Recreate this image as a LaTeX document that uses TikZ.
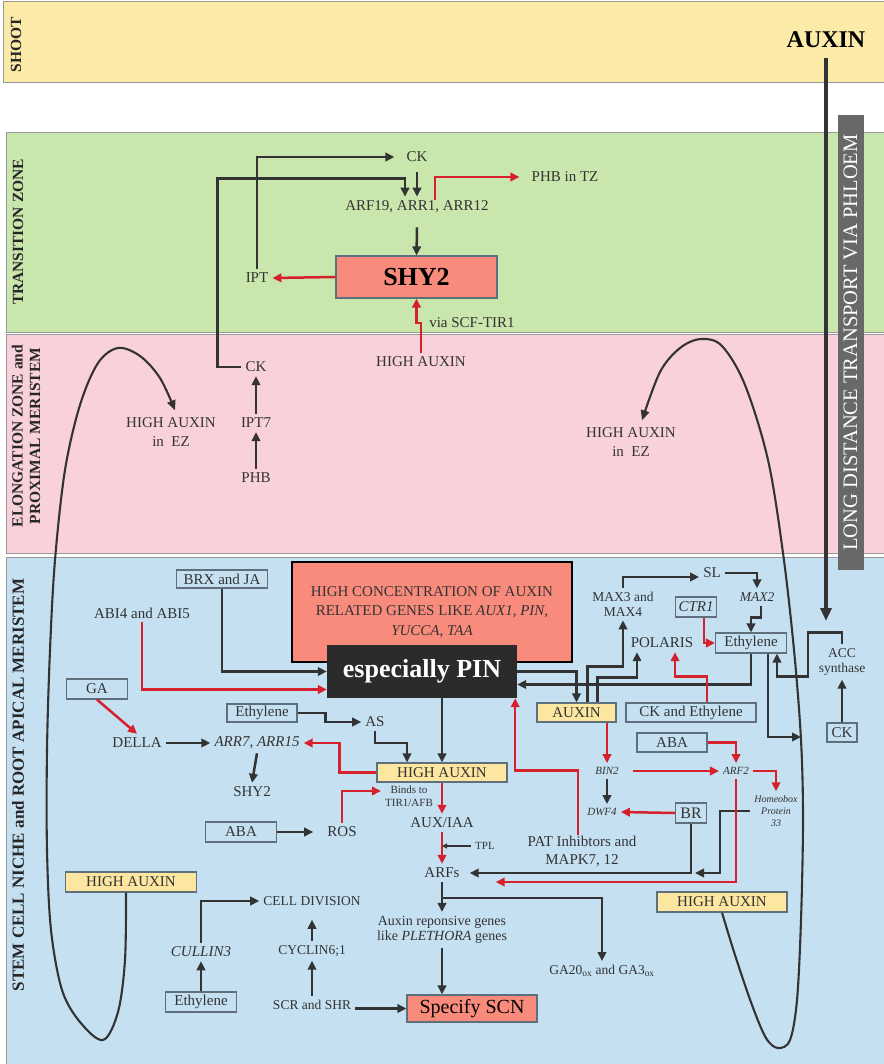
\documentclass[tikz,border=0pt]{standalone}
\usepackage{fontspec}
\setmainfont{Liberation Serif}
\usetikzlibrary{arrows.meta,calc}
\definecolor{shootc}{HTML}{FCEBA8}
\definecolor{tzc}{HTML}{C9E7AC}
\definecolor{ezc}{HTML}{F8D1DB}
\definecolor{scc}{HTML}{C5E1F1}
\definecolor{salm}{HTML}{F98B7C}
\definecolor{yboxc}{HTML}{FCE6A0}
\definecolor{dk}{HTML}{333333}
\definecolor{rd}{HTML}{D6212D}
\definecolor{bgr}{HTML}{5F707C}
\definecolor{bandln}{HTML}{999999}
\definecolor{pinc}{HTML}{2B2B2B}
\definecolor{barc}{HTML}{686868}
\begin{document}
\begin{tikzpicture}[x=1pt,y=-1pt,
  every node/.style={inner sep=4pt, text=dk},
  lbl/.style={font=\fontsize{15}{19}\selectfont, align=center},
  sm/.style={font=\fontsize{13.5}{15}\selectfont, align=center},
  xs/.style={font=\fontsize{11}{12.5}\selectfont, align=center},
  bx/.style={font=\fontsize{15}{17}\selectfont, draw=bgr, line width=1.2pt, fill=scc, inner sep=0pt},
  yb/.style={bx, fill=yboxc},
  arr/.style={draw=dk, line width=2.5pt, -{Triangle[length=9pt,width=8.5pt]}},
  rarr/.style={arr, draw=rd},
  band/.style={draw=bandln, line width=1pt},
  zlab/.style={rotate=90, font=\bfseries\fontsize{15.5}{17.5}\selectfont, align=center, text=black!85, inner sep=0pt},
  curve/.style={draw=dk, line width=2.1pt, -{Triangle[length=10pt,width=8.5pt]}}
]
\useasboundingbox (0,0) rectangle (883,1064);
\fill[white] (0,0) rectangle (883,1064);
% bands
\draw[band, fill=shootc] (3,2) rectangle (890,83);
\draw[band, fill=tzc] (6,133) rectangle (890,332);
\draw[band, fill=ezc] (6,334) rectangle (890,553);
\draw[band, fill=scc] (6,557) rectangle (890,1070);
\node[zlab] (lshoot) at (16,45) {SHOOT};
\node[zlab] (ltz) at (18,232) {TRANSITION ZONE};
\node[zlab] (lez) at (26,436) {ELONGATION ZONE and\\PROXIMAL MERISTEM};
\node[zlab, font=\bfseries\fontsize{17}{19}\selectfont] (lsc) at (18,785) {STEM CELL NICHE and ROOT APICAL MERISTEM};

% long distance transport
\node[font=\bfseries\fontsize{24}{26}\selectfont, text=black, inner sep=0pt] (auxtop) at (826,40) {AUXIN};
\node[fill=barc, rotate=90, minimum width=455, minimum height=26, inner sep=0pt, text=white, font=\fontsize{20.5}{22}\selectfont] (ldt) at (850.5,342.5) {LONG DISTANCE TRANSPORT VIA PHLOEM};
\coordinate (ldtend) at (826,621);
\draw[draw=dk, line width=3.4pt, -{Triangle[length=13pt,width=11pt]}] ([yshift=-10]auxtop.south) -- (ldtend);

% transition zone
\node[lbl] (ck1) at (417,157) {CK};
\node[lbl] (arrn) at (417,207) {ARF19, ARR1, ARR12};
\node[lbl] (phb) at (565,177) {PHB in TZ};
\node[draw=bgr, fill=salm, line width=1.2pt, minimum width=161, minimum height=42, inner sep=0pt, font=\bfseries\fontsize{26}{28}\selectfont, text=black] (shy2) at (416.5,277) {SHY2};
\node[lbl] (ipt) at (257,278) {IPT};
\node[lbl] (via) at (472,323) {via SCF-TIR1};

% elongation zone
\node[lbl] (hia1) at (421,362) {HIGH AUXIN};
\node[lbl] (ck2) at (256,367) {CK};
\node[lbl] (ipt7) at (256,423) {IPT7};
\node[lbl] (phb2) at (256,478) {PHB};
\node[lbl] (hez1) at (171,432) {HIGH AUXIN\\in\ \ EZ};
\node[lbl] (hez2) at (631,442) {HIGH AUXIN\\in\ \ EZ};

\draw[arr] (ipt.north) |- ([xshift=-8]ck1.west);
\draw[arr] (ck2.west) -- ++(-24,0) |- ($(arrn.north)+(-12,-18)$) -- ($(arrn.north)+(-12,0)$);
\draw[arr] ([yshift=-6]ck1.south) -- (ck1.south |- arrn.north);
\draw[rarr] ($(arrn.north)+(18,3)$) |- ([xshift=-8]phb.west);
\draw[arr] ([yshift=-10]arrn.south) -- (shy2.north);
\draw[rarr] (shy2.west) -- (ipt.east);
\draw[rarr] (hia1.north) -- ++(0,-30) -| (shy2.south);
\draw[arr] (ipt7) -- (ck2);
\draw[arr] (phb2) -- (ipt7);

% stem cell niche: central
\node[draw=black, line width=2.5pt, fill=salm, minimum width=280, minimum height=100, inner sep=0pt, font=\fontsize{15}{19.5}\selectfont, align=center] (hcon) at (432,612) {HIGH CONCENTRATION OF AUXIN\\RELATED GENES LIKE \textit{AUX1}, \textit{PIN},\\\textit{YUCCA}, \textit{TAA}};
\node[fill=pinc, minimum width=190, minimum height=53, inner sep=0pt, text=white, font=\bfseries\fontsize{26}{28}\selectfont] (pin) at (422,671.5) {especially PIN};

\node[bx, minimum width=91, minimum height=18] (brx) at (222,579) {BRX and JA};
\node[lbl] (abi) at (142,613) {ABI4 and ABI5};
\node[bx, minimum width=61, minimum height=20] (ga) at (97,689) {GA};
\node[lbl] (della) at (137,743) {DELLA};
\node[lbl, font=\itshape\fontsize{15}{19}\selectfont] (arr7) at (257,743) {ARR7, ARR15};
\node[bx, minimum width=70, minimum height=18] (eth1) at (262,713) {Ethylene};
\node[lbl] (asn) at (375,722) {AS};
\node[yb, minimum width=130, minimum height=19] (hia2) at (442,772.5) {HIGH AUXIN};
\node[lbl] (shy2b) at (252,792) {SHY2};
\node[xs] (binds) at (409,796) {Binds to\\TIR1/AFB};
\node[bx, minimum width=71, minimum height=20] (aba1) at (241,832) {ABA};
\node[lbl] (ros) at (342,832) {ROS};
\node[lbl] (auxiaa) at (442,823) {AUX/IAA};
\node[xs] (tpl) at (485,846) {TPL};
\node[lbl] (arfs) at (442,873) {ARFs};
\node[font=\fontsize{14}{15.5}\selectfont, align=center] (resp) at (442,930) {Auxin reponsive genes\\like \textit{PLETHORA} genes};
\node[draw=bgr, line width=1.2pt, fill=salm, minimum width=130, minimum height=27, inner sep=0pt, font=\fontsize{20}{22}\selectfont, text=black] (scn) at (472,1008.5) {Specify SCN};
\node[yb, minimum width=131, minimum height=20] (hia3) at (131,882) {HIGH AUXIN};
\node[sm] (celldiv) at (312,901) {CELL DIVISION};
\node[lbl, font=\itshape\fontsize{15}{19}\selectfont] (cullin) at (201,952) {CULLIN3};
\node[bx, minimum width=71, minimum height=20] (eth3) at (201,1002) {Ethylene};
\node[sm] (cyclin) at (312,951) {CYCLIN6;1};
\node[sm] (scr) at (312,1005) {SCR and SHR};
\node[sm] (ga20) at (602,971) {GA20\textsubscript{ox} and GA3\textsubscript{ox}};

% right part
\node[sm] (max34) at (623,604) {MAX3 and\\MAX4};
\node[lbl] (sl) at (712,573) {SL};
\node[sm, font=\itshape\fontsize{13.5}{15}\selectfont] (max2) at (757,597) {MAX2};
\node[bx, minimum width=41, minimum height=20, font=\itshape\fontsize{15}{17}\selectfont] (ctr1) at (696,607) {CTR1};
\node[lbl] (polaris) at (662,643) {POLARIS};
\node[bx, minimum width=71, minimum height=20] (eth2) at (751,643) {Ethylene};
\node[sm] (acc) at (842,662) {ACC\\synthase};
\node[yb, minimum width=79, minimum height=19] (auxb) at (576.5,712.5) {AUXIN};
\node[bx, minimum width=130, minimum height=19] (cketh) at (691,712.5) {CK and Ethylene};
\node[bx, minimum width=30, minimum height=19] (ck3) at (842,732.5) {CK};
\node[bx, minimum width=70, minimum height=19] (aba2) at (672,742.5) {ABA};
\node[xs, font=\itshape\fontsize{11}{12.5}\selectfont] (bin2) at (607,771) {BIN2};
\node[xs, font=\itshape\fontsize{11}{12.5}\selectfont] (arf2) at (736,771) {ARF2};
\node[xs, font=\itshape\fontsize{11}{12.5}\selectfont] (dwf4) at (602,812) {DWF4};
\node[bx, minimum width=31, minimum height=20, font=\fontsize{16}{17}\selectfont] (br) at (691,813) {BR};
\node[font=\itshape\fontsize{10}{12}\selectfont, align=center] (hbox) at (776,811) {Homeobox\\Protein\\33};
\node[lbl, font=\fontsize{15}{18}\selectfont] (pat) at (582,851) {PAT Inhibtors and\\MAPK7, 12};
\node[yb, minimum width=130, minimum height=20] (hia4) at (722,902) {HIGH AUXIN};
\coordinate (rc) at (801,737);

% arrows: central/left
\draw[arr] (brx.south) |- (pin.west);
\draw[rarr] (abi.south) |- ($(pin.west)+(0,18)$);
\draw[rarr] (ga.south) -- (della.north);
\draw[arr] (della.east) -- (arr7.west);
\draw[arr] (eth1.east) -- ++(28,0) |- (asn.west);
\draw[arr] (asn.south) -- ++(0,12) -| ($(hia2.north)+(-35,0)$);
\draw[arr] (pin.south -| hia2.north) -- (hia2.north);
\draw[rarr] (hia2.west) -- ++(-37,0) |- (arr7.east);
\draw[arr] (arr7.south) -- (shy2b.north);
\draw[rarr] (hia2.south) -- (auxiaa.north);
\draw[rarr] (ros.north) |- ($(binds.west)+(0,-5)$);
\draw[arr] (aba1.east) -- ([xshift=-10]ros.west);
\draw[rarr] (auxiaa.south) -- (arfs.north);
\draw[draw=dk, line width=1.3pt, -{Triangle[length=5pt,width=5pt]}] (tpl.west) -- (tpl.west -| auxiaa.south);
\draw[arr] (arfs.south) -- (resp.north);
\draw[arr] ($(arfs.south)+(0,16)$) -| (ga20.north);
\draw[arr] (resp.south) -- (resp.south |- scn.north);
\draw[arr] (scr.east |- scn.west) -- (scn.west);
\draw[arr] (scr.north) -- (cyclin.south);
\draw[arr] (cyclin.north) -- ([yshift=-10]celldiv.south);
\draw[arr] (eth3.north) -- (cullin.south);
\draw[arr] (cullin.north) |- (celldiv.west);

% arrows: right
\draw[arr] (pin.east) -| (auxb.north);
\draw[arr] (eth2.south) |- ($(pin.east)+(0,13)$);
\draw[arr] ($(auxb.north)+(11,0)$) -- ++(0,-36) -| (max34.south);
\draw[arr] ($(auxb.north)+(21,0)$) -- ++(0,-25) -| ($(polaris.south)+(-25,0)$);
\draw[arr] (max34.north) |- ([yshift=-4]sl.west);
\draw[arr] (sl.east) -| (max2.north);
\draw[arr] ($(max2.south)+(4,0)$) -- ++(0,12) -| (eth2.north);
\draw[rarr] ($(ctr1.south)+(8,0)$) |- (eth2.west);
\draw[rarr] ($(cketh.north)+(16,0)$) -- ++(0,-26) -| ($(polaris.south)+(13,0)$);
\draw[arr] (acc.north) -- ++(0,-12) -- ++(-34,0) -- ++(0,44) -| ($(eth2.south)+(26,0)$);
\draw[arr] (ck3.north) -- (acc.south);
\draw[arr] ($(eth2.south)+(17,0)$) |- (rc);
\draw[rarr] (bin2.north |- auxb.south) -- (bin2.north);
\draw[rarr] (aba2.east) -| (arf2.north);
\draw[rarr] ([xshift=10]bin2.east) -- (arf2.west);
\draw[rarr] (arf2.east) -| (hbox.north);
\draw[arr] (bin2.south) -- (bin2.south |- dwf4.north);
\draw[rarr] (br.west) -- (dwf4.east);
\draw[arr] (br.south) |- ([xshift=6]arfs.east);
\draw[arr] (hbox.west) -- ++(-30,0) |- ($(br.south |- arfs.east)+(4,0)$);
\draw[rarr] (arf2.south) |- ($(arfs.east)+(32,9)$);
\draw[rarr] ($(pat.north)+(-4,4)$) -- ++(0,-65) -| ($(pin.south east)+(-2,0)$);

% big loops
\draw[curve] plot[smooth, tension=0.55] coordinates {([xshift=-5]hia3.south) (125,960) (118,1012) (103,1040) (80,1022) (62,990) (51,930) (47,850) (47,750) (50,650) (55,560) (65,470) (80,405) (98,363) (118,348) (140,356) (160,378) ($(hez1.north)+(4,-3)$)};
\draw[curve] plot[smooth, tension=0.55] coordinates {(hia4.south) (735,955) (752,1005) (766,1038) (778,1048) (790,1040) (797,1000) (801,920) (803,820) (801,740) (794,650) (783,553) (768,460) (745,385) (722,346) (701,339) (680,348) (660,372) ($(hez2.north)+(11,-3)$)};
\end{tikzpicture}
\end{document}
